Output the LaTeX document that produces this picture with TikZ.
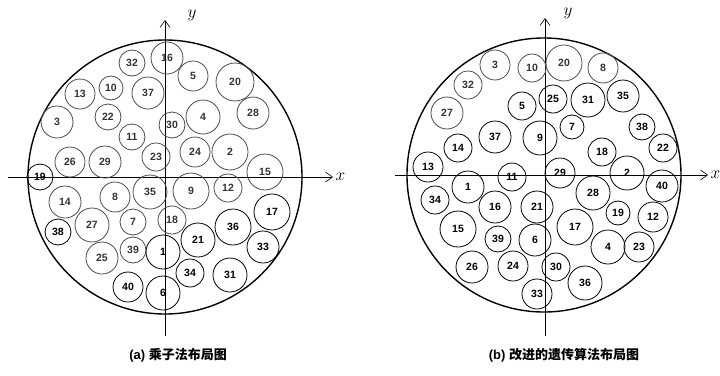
\documentclass[tikz,border=0pt]{standalone}
\usepackage{fontspec}
\setsansfont{Liberation Sans}
\newfontfamily\cjk{Noto Sans CJK SC}
\usetikzlibrary{arrows.meta}
\tikzset{
  disk/.style={circle, draw=black, line width=0.8pt, inner sep=0pt,
    font=\sffamily\bfseries\fontsize{10.5}{10.5}\selectfont},
  diskl/.style={disk, draw=black!70, text=black!80},
  axis/.style={line width=0.6pt, -{Straight Barb[length=7pt,width=10pt]}},
  bound/.style={line width=1.4pt},
}
\begin{document}
\begin{tikzpicture}[x=1pt,y=-1pt]
    \useasboundingbox (0,0) rectangle (720,375);
    % (a) left layout
    \draw[bound] (165,177) circle (137);
    \draw[axis] (8,177) -- (333,177) node[right=-1pt, font=\fontsize{16}{16}\selectfont] (ax) {$x$};
    \draw[axis] (165,336) -- (165,20) coordinate (ay);
    \node[font=\fontsize{16}{16}\selectfont] (ayl) at (192,15) {$y$};

    \foreach \n/\x/\y/\r in {32/132/63/13, 16/167/58/16, 13/80/94/15, 10/111/88/12,
        37/148/93/16, 3/57/122/16, 22/108/117/13, 11/132/137/13, 26/70/162/15,
        29/105/162/16, 23/156/157/14, 30/172/125/13, 5/193/76/15, 20/235/82/19,
        28/253/113/16, 4/203/117/17, 24/195/152/15, 2/230/152/18, 15/265/172/18,
        14/65/202/16, 8/115/197/15, 35/150/192/17, 9/191/191/18, 12/228/188/14,
        18/172/220/14, 7/133/222/13, 27/92/225/17, 25/102/258/16, 39/133/250/13}
        \node[diskl, minimum size={2*\r pt}] (a\n) at (\x,\y) {\n};
    \foreach \n/\x/\y/\r in {19/40/177/13, 38/58/232/13, 1/163/252/17, 21/198/240/17,
        36/233/227/18, 17/272/212/18, 33/263/247/16, 34/190/273/14, 31/230/275/17,
        6/163/293/17, 40/128/287/15}
        \node[disk, minimum size={2*\r pt}] (a\n) at (\x,\y) {\n};

    % (b) right layout
    \draw[bound] (544,175) circle (137);
    \draw[axis] (395,175) -- (708,175) node[right=-1pt, font=\fontsize{16}{16}\selectfont] (bx) {$x$};
    \draw[axis] (545,336) -- (545,18) coordinate (by);
    \node[font=\fontsize{16}{16}\selectfont] (byl) at (568,13) {$y$};

    \foreach \n/\x/\y/\r in {3/495/65/15, 32/468/85/14, 27/447/113/16, 10/532/68/14,
        20/564/63/18, 8/603/68/15}
        \node[diskl, minimum size={2*\r pt}] (b\n) at (\x,\y) {\n};
    \foreach \n/\x/\y/\r in {5/522/106/14, 37/495/137/16, 14/458/148/14, 9/540/138/17,
        25/553/99/14, 31/588/100/17, 35/623/96/16, 7/572/127/12, 38/642/127/13,
        22/663/148/14, 18/602/152/14, 13/428/167/15, 1/468/187/16, 11/512/177/14,
        34/435/200/14, 16/495/207/16, 21/537/207/16, 15/458/229/18, 39/498/239/13,
        6/535/240/16, 26/472/267/16, 24/513/266/15, 33/537/294/15, 29/560/173/15,
        2/627/173/17, 40/662/186/16, 28/593/193/17, 19/618/213/12, 12/653/217/15,
        17/575/227/18, 4/608/247/17, 23/639/247/15, 30/556/267/14, 36/585/283/17}
        \node[disk, minimum size={2*\r pt}] (b\n) at (\x,\y) {\n};

    % captions
    \node[font=\fontsize{13}{13}\selectfont] (capa) at (178,355) {\sffamily\bfseries (a)\ \cjk\bfseries 乘子法布局图};
    \node[font=\fontsize{13}{13}\selectfont] (capb) at (564,355) {\sffamily\bfseries (b)\ \cjk\bfseries 改进的遗传算法布局图};
\end{tikzpicture}
\end{document}
